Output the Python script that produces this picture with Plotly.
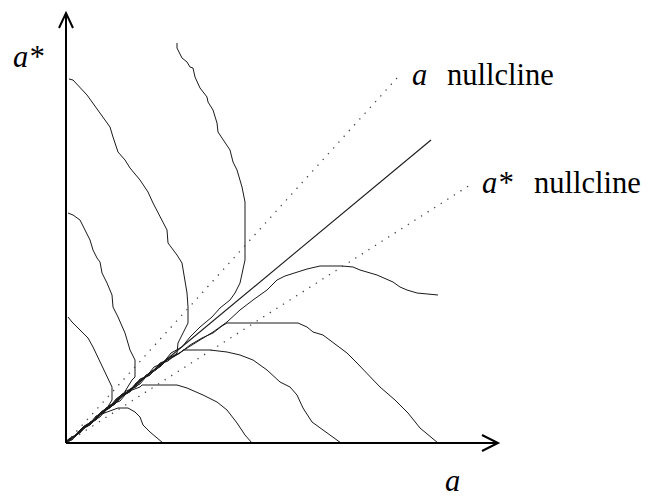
import plotly.graph_objects as go

# Coordinates are in chart units: origin at the axes' corner, 1 unit ~ 1 px.
# Trajectories
trajA_x = [111, 111, 116, 121, 124, 127, 129, 134, 141, 142, 147, 151, 152, 159, 164, 167, 171, 176, 179, 179, 177, 174, 169, 164, 154, 146, 134, 124, 116, 105, 97, 88, 80, 70, 62, 52, 44, 34, 26, 16, 8, 3, 0]
trajA_y = [400, 395, 385, 381, 376, 375, 366, 355, 346, 341, 333, 320, 311, 300, 293, 281, 273, 256, 241, 183, 173, 160, 150, 143, 135, 126, 116, 106, 96, 90, 80, 76, 66, 60, 50, 45, 36, 30, 21, 15, 6, 4, 0]

trajB_x = [3, 7, 21, 32, 41, 44, 47, 52, 59, 64, 74, 82, 87, 94, 101, 102, 111, 116, 119, 121, 122, 122, 112, 111, 102, 94, 84, 74, 64, 56, 46, 36, 26, 18, 10, 4, -1, 1, 0]
trajB_y = [364, 363, 348, 333, 321, 316, 306, 291, 283, 275, 263, 251, 240, 226, 213, 200, 188, 180, 163, 150, 136, 120, 100, 90, 82, 79, 68, 64, 52, 49, 37, 32, 21, 17, 7, 5, 1, -1, 0]

trajC_x = [2, 7, 14, 19, 24, 27, 31, 34, 36, 41, 46, 47, 52, 59, 64, 69, 69, 66, 58, 50, 42, 34, 26, 18, 10, 4, 0]
trajC_y = [230, 228, 223, 213, 203, 193, 185, 181, 170, 160, 148, 136, 126, 110, 93, 83, 66, 63, 50, 44, 34, 30, 20, 16, 7, 4, 0]

trajD_x = [2, 6, 14, 22, 27, 32, 37, 41, 46, 46, 44, 38, 30, 22, 14, 7, 2, 0]
trajD_y = [126, 121, 113, 105, 96, 85, 75, 66, 56, 43, 40, 30, 27, 17, 13, 4, 3, 0]

trajE_x = [97, 91, 84, 77, 74, 69, 62, 52, 47, 40, 33, 25, 18, 10, 4, 0]
trajE_y = [0, 5, 11, 18, 26, 31, 35, 35, 33, 30, 28, 19, 16, 7, 4, 0]

trajF_x = [186, 179, 171, 161, 151, 137, 121, 111, 76, 74, 66, 58, 48, 40, 30, 22, 12, 5, 0]
trajF_y = [0, 8, 20, 33, 41, 48, 55, 58, 58, 56, 53, 49, 38, 35, 23, 19, 9, 5, 0]

trajG_x = [275, 267, 257, 246, 237, 231, 224, 214, 201, 187, 174, 161, 144, 117, 114, 104, 94, 84, 74, 64, 54, 44, 34, 24, 14, 6, 2, 0]
trajG_y = [0, 6, 13, 21, 35, 48, 56, 61, 73, 83, 88, 91, 93, 93, 90, 84, 80, 68, 63, 51, 47, 35, 30, 18, 13, 3, 2, 0]

trajH_x = [372, 366, 354, 342, 329, 314, 301, 291, 281, 267, 257, 247, 241, 232, 214, 161, 156, 147, 136, 124, 114, 104, 94, 84, 74, 64, 54, 44, 34, 24, 14, 6, 2, 0]
trajH_y = [0, 5, 15, 30, 43, 56, 70, 80, 90, 101, 108, 111, 116, 120, 120, 120, 117, 110, 105, 98, 90, 86, 76, 71, 59, 54, 42, 38, 26, 21, 10, 6, 0, 0]

trajI_x = [372, 361, 351, 341, 334, 327, 311, 294, 287, 276, 254, 241, 227, 219, 211, 201, 187, 174, 161, 147, 134, 121, 110, 100, 90, 80, 70, 60, 50, 40, 30, 20, 11, 4, 0]
trajI_y = [148, 149, 150, 153, 156, 161, 168, 173, 176, 177, 177, 174, 170, 167, 163, 153, 143, 133, 121, 111, 103, 95, 88, 83, 73, 68, 56, 52, 40, 35, 24, 18, 9, 4, 0]

trajectories = [
    (trajA_x, trajA_y), (trajB_x, trajB_y), (trajC_x, trajC_y),
    (trajD_x, trajD_y), (trajE_x, trajE_y), (trajF_x, trajF_y),
    (trajG_x, trajG_y), (trajH_x, trajH_y), (trajI_x, trajI_y),
]

# Straight lines
diag_x = [0, 365]
diag_y = [0, 303]
a_null_x = [0, 331]
a_null_y = [0, 365]
astar_null_x = [0, 404]
astar_null_y = [0, 258]

# Axes arrows
xaxis_end = 432
yaxis_end = 430

# Labels
label_astar = "<i>a*</i>"
label_a = "<i>a</i>"
label_null = "nullcline"

fig = go.Figure()

for tx, ty in trajectories:
    fig.add_trace(go.Scatter(x=tx, y=ty, mode="lines",
                             line=dict(color="#1a1a1a", width=1),
                             hoverinfo="skip", showlegend=False))

fig.add_trace(go.Scatter(x=diag_x, y=diag_y, mode="lines",
                         line=dict(color="#1a1a1a", width=1.1),
                         hoverinfo="skip", showlegend=False))
for nx, ny in [(a_null_x, a_null_y), (astar_null_x, astar_null_y)]:
    fig.add_trace(go.Scatter(x=nx, y=ny, mode="lines",
                             line=dict(color="#444", width=1.3, dash="1.3px,6.5px"),
                             hoverinfo="skip", showlegend=False))

# axes with open arrowheads
ax_line = dict(color="black", width=2)
fig.add_shape(type="line", x0=0, y0=0, x1=xaxis_end, y1=0, line=ax_line)
fig.add_shape(type="line", x0=0, y0=0, x1=0, y1=yaxis_end, line=ax_line)
fig.add_shape(type="path",
              path=f"M {xaxis_end-16},8 L {xaxis_end},0 L {xaxis_end-16},-8",
              line=ax_line)
fig.add_shape(type="path",
              path=f"M -7,{yaxis_end-15} L 0,{yaxis_end} L 7,{yaxis_end-15}",
              line=ax_line)

font = dict(family="Liberation Serif", size=30.5, color="black")
def label(x, y, text, anchor="left"):
    fig.add_annotation(x=x, y=y, text=text, showarrow=False,
                       xanchor=anchor, yanchor="middle", font=font)

label(-55, 386, label_astar)
label(386.5, -38, label_a, "center")
label(344, 368, label_a)
label(379, 368, label_null)
label(414, 260, label_astar)
label(466, 260, label_null)

# page body has an 8px margin: figure spans 642x491 inside the 650x499 window
fig.update_layout(
    width=642, height=491,
    margin=dict(l=0, r=0, t=0, b=0),
    paper_bgcolor="white", plot_bgcolor="white",
    showlegend=False,
    xaxis=dict(range=[-58, 584], visible=False, fixedrange=True),
    yaxis=dict(range=[-56, 435], visible=False, fixedrange=True),
)

fig.write_html("out.html")
